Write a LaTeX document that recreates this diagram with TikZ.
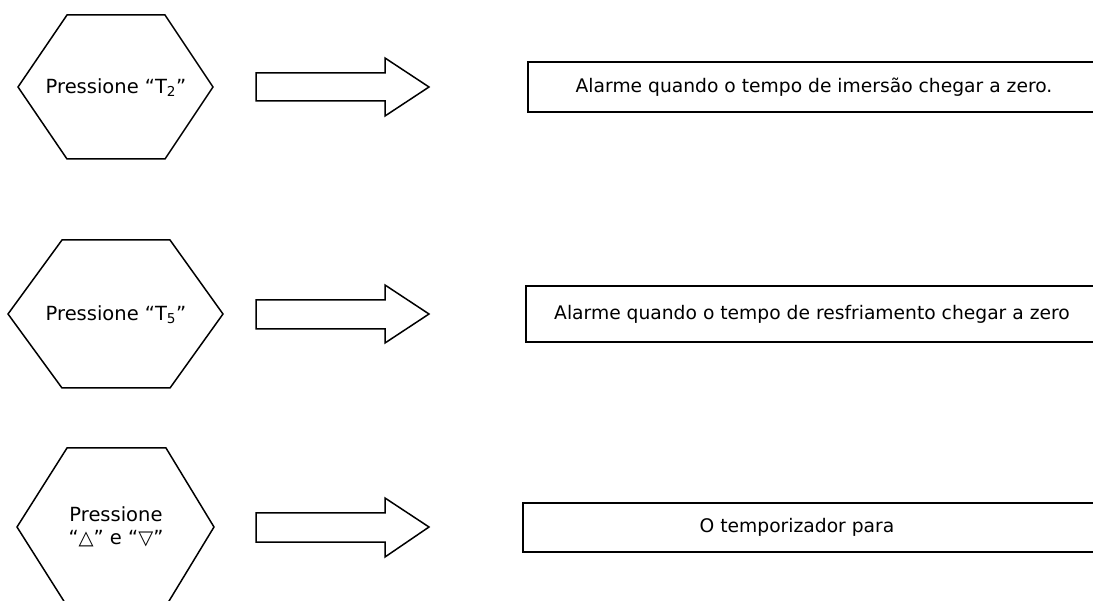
\documentclass[tikz,border=0pt]{standalone}
\usepackage{fontspec}
\setmainfont{DejaVu Sans}
\begin{document}
\begin{tikzpicture}[x=1pt,y=-1pt,
  shp/.style={draw=black,line width=1.5pt,line join=miter,fill=white},
  hexlabel/.style={inner sep=0pt,align=center,font=\fontsize{19.5}{23}\selectfont},
  boxlabel/.style={inner sep=0pt,font=\fontsize{18.7}{22}\selectfont}]
\useasboundingbox (0,0) rectangle (1093,601);
\clip (0,0) rectangle (1093,601);
% hexagons
\draw[shp] (67,15) -- (165,15) -- (213,87) -- (165,159) -- (67,159) -- (18,87) -- cycle;
\draw[shp] (62,240) -- (170,240) -- (223,314) -- (170,388) -- (62,388) -- (8,314) -- cycle;
\draw[shp] (67,448) -- (166,448) -- (214,527) -- (166,606) -- (67,606) -- (17,527) -- cycle;
\node[hexlabel] (h1) at (116,88) {Pressione “T\textsubscript{2}”};
\node[hexlabel] (h2) at (116,315) {Pressione “T\textsubscript{5}”};
\node[hexlabel] (h3) at (116,527) {Pressione\\“△” e “▽”};
% block arrows
\draw[shp] (256,73) -- (385,73) -- (385,58) -- (429,87) -- (385,116) -- (385,101) -- (256,101) -- cycle;
\draw[shp] (256,300) -- (385,300) -- (385,285) -- (429,314) -- (385,343) -- (385,329) -- (256,329) -- cycle;
\draw[shp] (256,513) -- (385,513) -- (385,498) -- (429,527) -- (385,557) -- (385,542) -- (256,542) -- cycle;
% boxes
\draw[shp] (528,62) rectangle (1110,112);
\draw[shp] (526,286) rectangle (1110,342);
\draw[shp] (523,503) rectangle (1110,552);
\node[boxlabel] (b1) at (814,87) {Alarme quando o tempo de imersão chegar a zero.};
\node[boxlabel] (b2) at (812,314) {Alarme quando o tempo de resfriamento chegar a zero};
\node[boxlabel] (b3) at (797,527) {O temporizador para};
\end{tikzpicture}
\end{document}
